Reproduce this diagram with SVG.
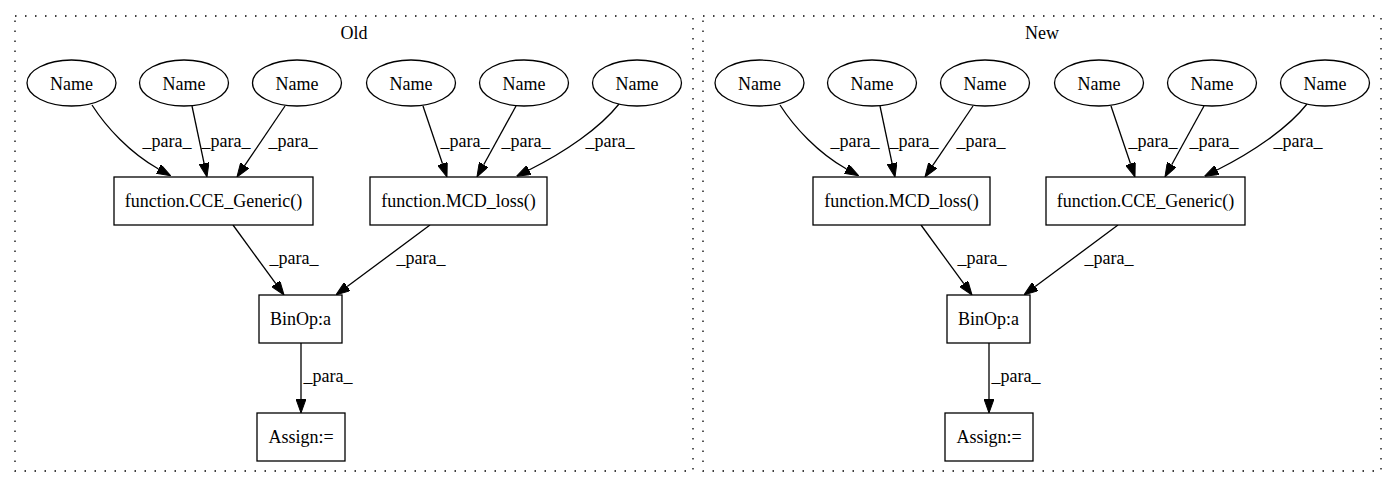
<svg xmlns="http://www.w3.org/2000/svg" width="1395" height="488" viewBox="0 0 1395 488">
  <style>
    text { font-family: "Liberation Serif", "Times New Roman", serif; font-size: 18px; fill: #000; text-anchor: middle; }
    .cluster { fill: none; stroke: #000; stroke-width: 1.3; stroke-dasharray: 1.5 8.5; }
    .node ellipse, .node rect { fill: #fff; stroke: #000; stroke-width: 1.3; }
    .edge { fill: none; stroke: #000; stroke-width: 1.3; marker-end: url(#arrow); }
  </style>
  <defs>
    <marker id="arrow" viewBox="0 0 14 10" refX="0" refY="5" markerWidth="14" markerHeight="10" markerUnits="userSpaceOnUse" orient="auto">
      <path d="M0,0 L14,5 L0,10 z" fill="#000" stroke="#000" stroke-width="1"/>
    </marker>
  </defs>
  <rect width="1395" height="488" fill="#fff"/>

  <!-- clusters -->
  <g id="cluster_old">
    <rect class="cluster" x="15" y="16" width="678" height="455"/>
    <text x="354" y="39">Old</text>
  </g>
  <g id="cluster_new">
    <rect class="cluster" x="703" y="16" width="678" height="455"/>
    <text x="1042" y="39">New</text>
  </g>

  <!-- connectors -->
  <g id="edges">
    <!-- Old: Name -> function.CCE_Generic() -->
    <path class="edge" d="M92,105 C106,127 130,153 158.5,169"/>
    <path class="edge" d="M192,106 L204.1,163.3"/>
    <path class="edge" d="M285,106 L244.8,165.4"/>
    <!-- Old: Name -> function.MCD_loss() -->
    <path class="edge" d="M423,106 L442.5,163.7"/>
    <path class="edge" d="M516,106 L483.7,164.7"/>
    <path class="edge" d="M619,104 C600,128 565,152 529,170"/>
    <!-- Old: calls -> BinOp -> Assign -->
    <path class="edge" d="M233,225 L275.8,283.7"/>
    <path class="edge" d="M430,225 L347.2,286.6"/>
    <path class="edge" d="M301,343 L301,399"/>

    <!-- New: Name -> function.MCD_loss() -->
    <path class="edge" d="M780,105 C794,127 818,153 846.5,169"/>
    <path class="edge" d="M880,106 L892.1,163.3"/>
    <path class="edge" d="M973,106 L932.8,165.4"/>
    <!-- New: Name -> function.CCE_Generic() -->
    <path class="edge" d="M1111,106 L1130.5,163.7"/>
    <path class="edge" d="M1204,106 L1171.7,164.7"/>
    <path class="edge" d="M1307,104 C1288,128 1253,152 1217,170"/>
    <!-- New: calls -> BinOp -> Assign -->
    <path class="edge" d="M921,225 L963.8,283.7"/>
    <path class="edge" d="M1118,225 L1035.2,286.6"/>
    <path class="edge" d="M989,343 L989,399"/>

    <!-- edge labels -->
    <text x="167" y="147">_para_</text>
    <text x="226" y="147">_para_</text>
    <text x="293" y="147">_para_</text>
    <text x="465" y="147">_para_</text>
    <text x="526" y="147">_para_</text>
    <text x="610" y="147">_para_</text>
    <text x="294" y="264">_para_</text>
    <text x="421" y="264">_para_</text>
    <text x="328" y="382">_para_</text>

    <text x="855" y="147">_para_</text>
    <text x="914" y="147">_para_</text>
    <text x="981" y="147">_para_</text>
    <text x="1153" y="147">_para_</text>
    <text x="1214" y="147">_para_</text>
    <text x="1298" y="147">_para_</text>
    <text x="982" y="264">_para_</text>
    <text x="1109" y="264">_para_</text>
    <text x="1016" y="382">_para_</text>
  </g>

  <!-- Old nodes -->
  <g id="old_name1" class="node"><ellipse cx="71.5" cy="83" rx="44.5" ry="23"/><text x="71.5" y="89.5">Name</text></g>
  <g id="old_name2" class="node"><ellipse cx="184" cy="83" rx="44.5" ry="23"/><text x="184" y="89.5">Name</text></g>
  <g id="old_name3" class="node"><ellipse cx="297" cy="83" rx="44.5" ry="23"/><text x="297" y="89.5">Name</text></g>
  <g id="old_name4" class="node"><ellipse cx="411" cy="83" rx="44.5" ry="23"/><text x="411" y="89.5">Name</text></g>
  <g id="old_name5" class="node"><ellipse cx="524" cy="83" rx="44.5" ry="23"/><text x="524" y="89.5">Name</text></g>
  <g id="old_name6" class="node"><ellipse cx="637" cy="83" rx="44.5" ry="23"/><text x="637" y="89.5">Name</text></g>
  <g id="old_cce" class="node"><rect x="114" y="177" width="199" height="48"/><text x="213.5" y="207">function.CCE_Generic()</text></g>
  <g id="old_mcd" class="node"><rect x="370" y="177" width="177" height="48"/><text x="458.5" y="207">function.MCD_loss()</text></g>
  <g id="old_binop" class="node"><rect x="259" y="295" width="83" height="48"/><text x="300.5" y="325">BinOp:a</text></g>
  <g id="old_assign" class="node"><rect x="257" y="413" width="88" height="48"/><text x="301" y="443">Assign:=</text></g>

  <!-- New nodes -->
  <g id="new_name1" class="node"><ellipse cx="759.5" cy="83" rx="44.5" ry="23"/><text x="759.5" y="89.5">Name</text></g>
  <g id="new_name2" class="node"><ellipse cx="872" cy="83" rx="44.5" ry="23"/><text x="872" y="89.5">Name</text></g>
  <g id="new_name3" class="node"><ellipse cx="985" cy="83" rx="44.5" ry="23"/><text x="985" y="89.5">Name</text></g>
  <g id="new_name4" class="node"><ellipse cx="1099" cy="83" rx="44.5" ry="23"/><text x="1099" y="89.5">Name</text></g>
  <g id="new_name5" class="node"><ellipse cx="1212" cy="83" rx="44.5" ry="23"/><text x="1212" y="89.5">Name</text></g>
  <g id="new_name6" class="node"><ellipse cx="1325" cy="83" rx="44.5" ry="23"/><text x="1325" y="89.5">Name</text></g>
  <g id="new_mcd" class="node"><rect x="813" y="177" width="177" height="48"/><text x="901.5" y="207">function.MCD_loss()</text></g>
  <g id="new_cce" class="node"><rect x="1046" y="177" width="199" height="48"/><text x="1145.5" y="207">function.CCE_Generic()</text></g>
  <g id="new_binop" class="node"><rect x="947" y="295" width="83" height="48"/><text x="988.5" y="325">BinOp:a</text></g>
  <g id="new_assign" class="node"><rect x="945" y="413" width="88" height="48"/><text x="989" y="443">Assign:=</text></g>
</svg>
